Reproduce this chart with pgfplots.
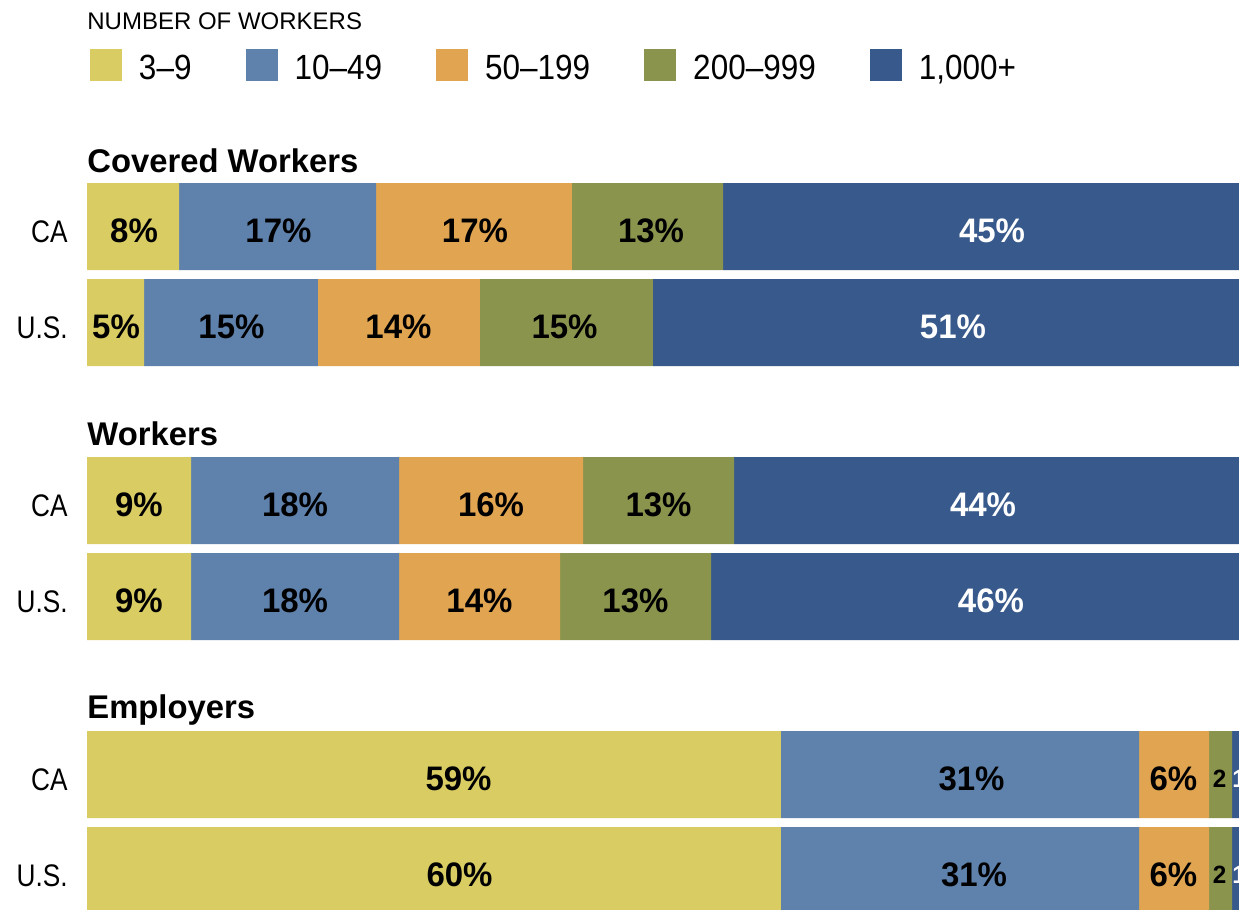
\documentclass[border=0pt]{standalone}
\usepackage{pgfplots}
\pgfplotsset{compat=1.18}
\usepackage{fontspec}
\setmainfont{Liberation Sans}
\newfontfamily\condfont[FakeStretch=0.84]{Liberation Sans}
\newfontfamily\legfont[FakeStretch=0.9]{Liberation Sans}
\newfontfamily\barfont[FakeStretch=0.97]{Liberation Sans}
\definecolor{cY}{HTML}{D9CC62}
\definecolor{cB}{HTML}{5F82AD}
\definecolor{cO}{HTML}{E1A552}
\definecolor{cG}{HTML}{8B944D}
\definecolor{cD}{HTML}{38598B}
\newcommand\blab[3]{\node[anchor=center, inner sep=0pt, yshift=-2pt, text=#3, font=\barfont\bfseries\fontsize{17}{18}\selectfont] at (axis cs:#1) {#2};}
\newcommand\slab[3]{\node[anchor=center, inner sep=0pt, yshift=-2pt, text=#3, font=\barfont\bfseries\fontsize{12.5}{13}\selectfont] at (axis cs:#1) {#2};}
\newcommand\barlabels{%
\blab{4.08,226.5}{8\%}{black}
\blab{16.62,226.5}{17\%}{black}
\blab{33.68,226.5}{17\%}{black}
\blab{48.96,226.5}{13\%}{black}
\blab{78.56,226.5}{45\%}{white}
\blab{2.52,322.5}{5\%}{black}
\blab{12.54,322.5}{15\%}{black}
\blab{27.04,322.5}{14\%}{black}
\blab{41.45,322.5}{15\%}{black}
\blab{75.17,322.5}{51\%}{white}
\blab{4.51,500.5}{9\%}{black}
\blab{18.06,500.5}{18\%}{black}
\blab{35.07,500.5}{16\%}{black}
\blab{49.61,500.5}{13\%}{black}
\blab{77.78,500.5}{44\%}{white}
\blab{4.51,596.5}{9\%}{black}
\blab{18.06,596.5}{18\%}{black}
\blab{34.07,596.5}{14\%}{black}
\blab{47.61,596.5}{13\%}{black}
\blab{78.47,596.5}{46\%}{white}
\blab{32.25,774.5}{59\%}{black}
\blab{76.78,774.5}{31\%}{black}
\blab{94.31,774.5}{6\%}{black}
\slab{98.31,774.5}{2}{black}
\slab{100.0,774.5}{1}{white}
\blab{32.34,870.5}{60\%}{black}
\blab{77.00,870.5}{31\%}{black}
\blab{94.31,870.5}{6\%}{black}
\slab{98.31,870.5}{2}{black}
\slab{100.0,870.5}{1}{white}
}
\begin{document}
\begin{tikzpicture}
\useasboundingbox (0,0) rectangle (619.5pt,455pt);
\begin{axis}[
  at={(43.5pt,0pt)}, anchor=south west,
  scale only axis, width=576pt, height=455pt,
  xmin=0, xmax=100, ymin=0, ymax=910, y dir=reverse,
  xbar stacked, bar width=43.5pt,
  hide x axis,
  axis y line*=left, y axis line style={draw=none}, tick style={draw=none},
  ytick={226.5,322.5,500.5,596.5,774.5,870.5},
  yticklabels={CA,U.S.,CA,U.S.,CA,U.S.},
  yticklabel style={font=\condfont\fontsize{15.6}{16}\selectfont, inner sep=0pt, xshift=-9.5pt, yshift=-2.75pt},
  legend columns=5,
  legend style={at={(0.0026,0.9462)}, anchor=north west, draw=none, fill=none,
    inner sep=0pt, outer sep=0pt,
    font=\legfont\fontsize{17.5}{18}\selectfont,
    nodes={inner sep=0pt, anchor=base west},
    /tikz/every even column/.append style={column sep=27pt},
    /tikz/every odd column/.append style={column sep=8.5pt}},
  legend cell align=left,
  after end axis/.code={\barlabels},
]
\addplot[fill=cY, draw=none, legend image code/.code={\fill[cY] (0pt,-0.5pt) rectangle (16pt,15.5pt);}]
  coordinates {(7.99,226.5) (4.95,322.5) (9.03,500.5) (9.03,596.5) (60.24,774.5) (60.24,870.5)};
\addplot[fill=cB, draw=none, legend image code/.code={\fill[cB] (0pt,-0.5pt) rectangle (16pt,15.5pt);}]
  coordinates {(17.10,226.5) (15.10,322.5) (18.06,500.5) (18.06,596.5) (31.08,774.5) (31.08,870.5)};
\addplot[fill=cO, draw=none, legend image code/.code={\fill[cO] (0pt,-0.5pt) rectangle (16pt,15.5pt);}]
  coordinates {(17.01,226.5) (14.06,322.5) (15.97,500.5) (13.98,596.5) (6.08,774.5) (6.08,870.5)};
\addplot[fill=cG, draw=none, legend image code/.code={\fill[cG] (0pt,-0.5pt) rectangle (16pt,15.5pt);}]
  coordinates {(13.11,226.5) (15.02,322.5) (13.11,500.5) (13.11,596.5) (2.00,774.5) (2.00,870.5)};
\addplot[fill=cD, draw=none, legend image code/.code={\fill[cD] (0pt,-0.5pt) rectangle (16pt,15.5pt);}]
  coordinates {(44.79,226.5) (50.87,322.5) (43.83,500.5) (45.82,596.5) (0.60,774.5) (0.60,870.5)};
\addlegendentry{3–9}
\addlegendentry{10–49}
\addlegendentry{50–199}
\addlegendentry{200–999}
\addlegendentry{1,000+}
% titles
\node[anchor=base west, inner sep=0pt, font=\fontsize{12}{13}\selectfont] at (axis cs:0,29) {NUMBER OF WORKERS};
\node[anchor=base west, inner sep=0pt, font=\bfseries\fontsize{16.4}{18}\selectfont] at (axis cs:0,172) {Covered Workers};
\node[anchor=base west, inner sep=0pt, font=\bfseries\fontsize{16.4}{18}\selectfont] at (axis cs:0,445) {Workers};
\node[anchor=base west, inner sep=0pt, font=\bfseries\fontsize{16.4}{18}\selectfont] at (axis cs:0,718) {Employers};
\end{axis}
\end{tikzpicture}
\end{document}
